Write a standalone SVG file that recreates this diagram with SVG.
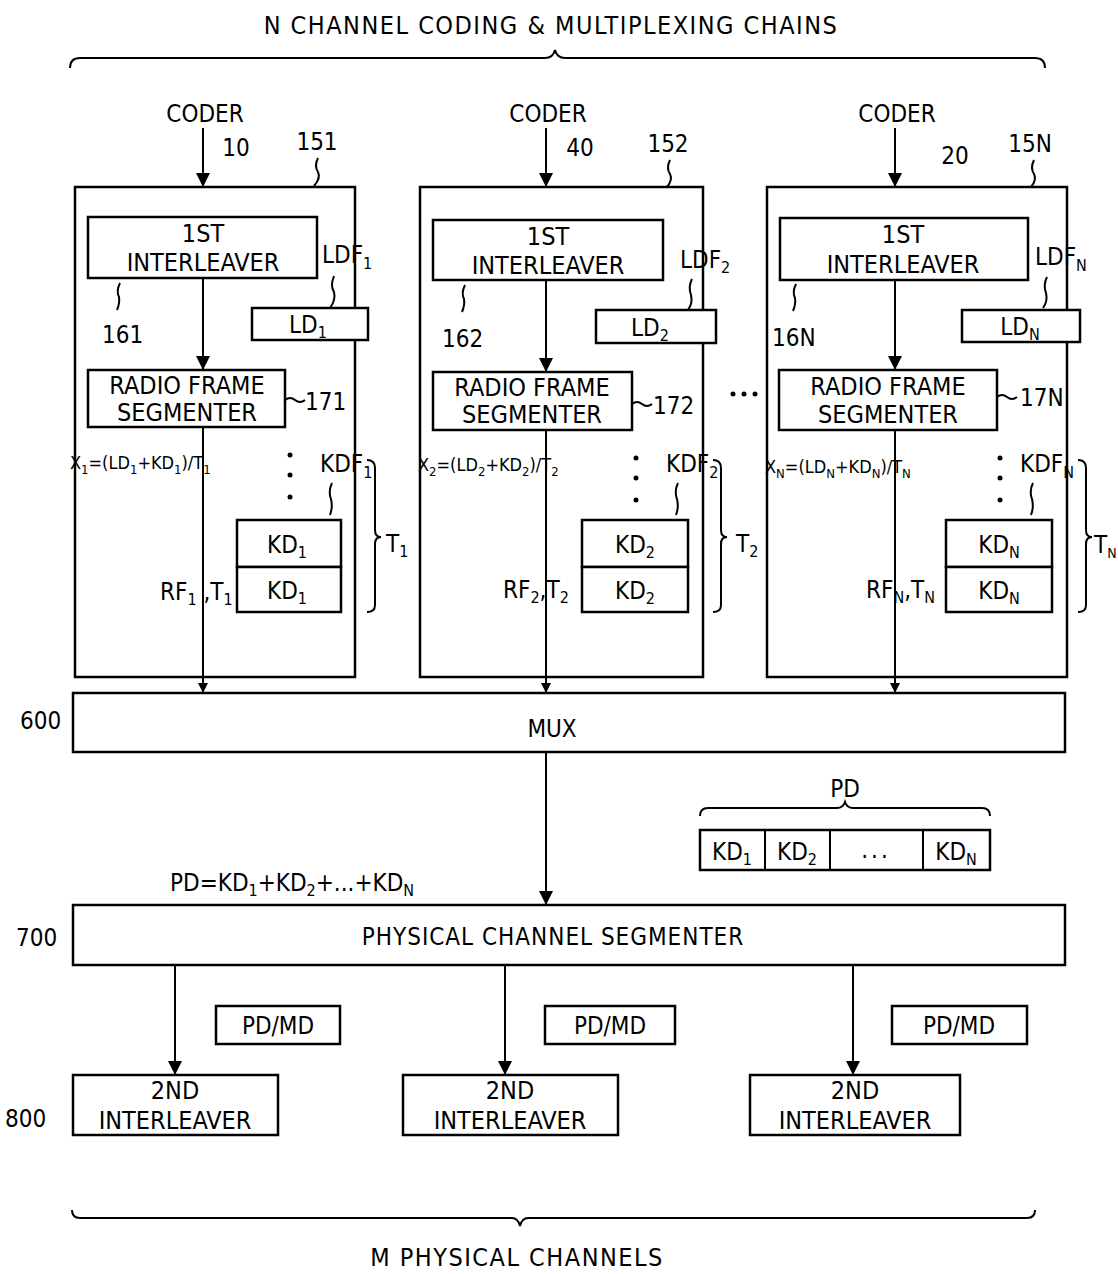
<svg xmlns="http://www.w3.org/2000/svg" width="1118" height="1274" viewBox="0 0 1118 1274">
<defs>
<marker id="ah" viewBox="0 0 10 10" refX="10" refY="5" markerWidth="10" markerHeight="10" markerUnits="userSpaceOnUse" orient="auto">
<path d="M0,0 L10,5 L0,10 z" fill="#000"/>
</marker>
<marker id="ahb" viewBox="0 0 10 10" refX="10" refY="5" markerWidth="16" markerHeight="14" markerUnits="userSpaceOnUse" orient="auto">
<path d="M0,0 L10,5 L0,10 z" fill="#000"/>
</marker>
</defs>
<style>
text{font-family:"Liberation Sans Narrow","DejaVu Sans Condensed","Liberation Sans",sans-serif;fill:#000}
.b{fill:#fff;stroke:#000;stroke-width:2.5}
.t{font-size:25px;text-anchor:middle}
.s{font-size:24px}
.f{font-size:18px}
.l{fill:none;stroke:#000;stroke-width:2}
.c{stroke:#000;stroke-width:2;fill:none}
.dot{fill:#000}
</style>
<rect width="1118" height="1274" fill="#fff"/>

<!-- Title & top brace -->
<text x="551" y="34" font-size="25" text-anchor="middle" letter-spacing="1.5">N CHANNEL CODING &amp; MULTIPLEXING CHAINS</text>
<path class="l" d="M70,68 Q70,58 80,58 L545,58 Q553,58 555,50 Q557,58 565,58 L1035,58 Q1045,58 1045,68"/>

<!-- Column 1 -->
<g id="chain1">
<rect class="b" x="75" y="187" width="280" height="490"/>
<text class="s" x="205" y="122" text-anchor="middle">CODER</text>
<text class="s" x="236" y="156" text-anchor="middle">10</text>
<text class="s" x="317" y="150" text-anchor="middle">151</text>
<path class="l" d="M318,158 q-4,8 0,14 q3,6 -4,14"/>
<g id="il1"><rect class="b" x="88" y="217" width="229" height="61"/>
<text class="t" x="203" y="242">1ST</text><text class="t" x="203" y="271">INTERLEAVER</text></g>
<text class="s" x="322" y="263">LDF<tspan font-size="16" dy="6">1</tspan></text>
<path class="l" d="M334,276 q-4,10 0,16 q2,8 -4,16"/>
<g id="ld1"><rect class="b" x="252" y="308" width="116" height="32"/>
<text class="s" x="308" y="333" text-anchor="middle">LD<tspan font-size="16" dy="5">1</tspan></text></g>
<text class="s" x="102" y="343">161</text>
<path class="l" d="M120,283 q-4,8 -1,14 q1,6 -2,13"/>
<g id="rfs1"><rect class="b" x="88" y="370" width="197" height="57"/>
<text class="t" x="187" y="394">RADIO FRAME</text><text class="t" x="187" y="421">SEGMENTER</text></g>
<path class="l" d="M285,400 q5,-4 10,0 q5,4 10,0"/>
<text class="s" x="305" y="410">171</text>
<text class="f" x="70" y="469">X<tspan font-size="13" dy="5">1</tspan><tspan dy="-5">=(LD</tspan><tspan font-size="13" dy="5">1</tspan><tspan dy="-5">+KD</tspan><tspan font-size="13" dy="5">1</tspan><tspan dy="-5">)/T</tspan><tspan font-size="13" dy="5">1</tspan></text>
<circle class="dot" cx="290" cy="455" r="2.5"/><circle class="dot" cx="290" cy="475" r="2.5"/><circle class="dot" cx="290" cy="497" r="2.5"/>
<text class="s" x="320" y="472">KDF<tspan font-size="16" dy="6">1</tspan></text>
<path class="l" d="M332,483 q-4,8 -1,16 q2,8 -1,16"/>
<g id="kd1"><rect class="b" x="237" y="520" width="104" height="47"/><rect class="b" x="237" y="567" width="104" height="45"/>
<text class="s" x="287" y="553" text-anchor="middle">KD<tspan font-size="16" dy="5">1</tspan></text>
<text class="s" x="287" y="599" text-anchor="middle">KD<tspan font-size="16" dy="5">1</tspan></text></g>
<text class="s" x="160" y="600">RF<tspan font-size="16" dy="5">1</tspan><tspan dy="-5"> ,T</tspan><tspan font-size="16" dy="5">1</tspan></text>
<path class="l" d="M367,460 q8,0 8,8 L375,530 q0,7 6,7 q-6,0 -6,7 L375,605 q0,7 -8,7"/>
<text class="s" x="386" y="552">T<tspan font-size="16" dy="5">1</tspan></text>
</g>

<!-- Column 2 -->
<g id="chain2">
<rect class="b" x="420" y="187" width="283" height="490"/>
<text class="s" x="548" y="122" text-anchor="middle">CODER</text>
<text class="s" x="580" y="156" text-anchor="middle">40</text>
<text class="s" x="668" y="152" text-anchor="middle">152</text>
<path class="l" d="M670,160 q-4,8 0,14 q3,6 -3,13"/>
<g id="il2"><rect class="b" x="433" y="220" width="230" height="60"/>
<text class="t" x="548" y="245">1ST</text><text class="t" x="548" y="274">INTERLEAVER</text></g>
<text class="s" x="680" y="268">LDF<tspan font-size="16" dy="5">2</tspan></text>
<path class="l" d="M692,279 q-4,8 -1,16 q2,8 -3,15"/>
<g id="ld2"><rect class="b" x="596" y="310" width="120" height="33"/>
<text class="s" x="650" y="336" text-anchor="middle">LD<tspan font-size="16" dy="5">2</tspan></text></g>
<text class="s" x="442" y="347">162</text>
<path class="l" d="M465,285 q-4,8 -1,14 q1,6 -2,13"/>
<g id="rfs2"><rect class="b" x="433" y="372" width="199" height="58"/>
<text class="t" x="532" y="396">RADIO FRAME</text><text class="t" x="532" y="423">SEGMENTER</text></g>
<path class="l" d="M632,404 q5,-4 10,0 q5,4 10,0"/>
<text class="s" x="653" y="414">172</text>
<text class="f" x="418" y="471">X<tspan font-size="13" dy="5">2</tspan><tspan dy="-5">=(LD</tspan><tspan font-size="13" dy="5">2</tspan><tspan dy="-5">+KD</tspan><tspan font-size="13" dy="5">2</tspan><tspan dy="-5">)/T</tspan><tspan font-size="13" dy="5">2</tspan></text>
<circle class="dot" cx="636" cy="458" r="2.5"/><circle class="dot" cx="636" cy="478" r="2.5"/><circle class="dot" cx="636" cy="500" r="2.5"/>
<text class="s" x="666" y="472">KDF<tspan font-size="16" dy="6">2</tspan></text>
<path class="l" d="M678,483 q-4,8 -1,16 q2,8 -1,16"/>
<g id="kd2"><rect class="b" x="582" y="520" width="106" height="47"/><rect class="b" x="582" y="567" width="106" height="45"/>
<text class="s" x="635" y="553" text-anchor="middle">KD<tspan font-size="16" dy="5">2</tspan></text>
<text class="s" x="635" y="599" text-anchor="middle">KD<tspan font-size="16" dy="5">2</tspan></text></g>
<text class="s" x="503" y="598">RF<tspan font-size="16" dy="5">2</tspan><tspan dy="-5">,T</tspan><tspan font-size="16" dy="5">2</tspan></text>
<path class="l" d="M713,460 q8,0 8,8 L721,530 q0,7 6,7 q-6,0 -6,7 L721,605 q0,7 -8,7"/>
<text class="s" x="736" y="552">T<tspan font-size="16" dy="5">2</tspan></text>
</g>

<g id="gap-dots"><circle class="dot" cx="733" cy="394" r="2.5"/><circle class="dot" cx="744" cy="394" r="2.5"/><circle class="dot" cx="755" cy="394" r="2.5"/></g>

<!-- Column 3 -->
<g id="chainN">
<rect class="b" x="767" y="187" width="300" height="490"/>
<text class="s" x="897" y="122" text-anchor="middle">CODER</text>
<text class="s" x="955" y="164" text-anchor="middle">20</text>
<text class="s" x="1030" y="152" text-anchor="middle">15N</text>
<path class="l" d="M1034,160 q-4,8 0,14 q3,6 -3,13"/>
<g id="ilN"><rect class="b" x="780" y="218" width="248" height="62"/>
<text class="t" x="903" y="243">1ST</text><text class="t" x="903" y="273">INTERLEAVER</text></g>
<text class="s" x="1035" y="265">LDF<tspan font-size="16" dy="6">N</tspan></text>
<path class="l" d="M1047,277 q-4,8 -1,16 q2,8 -3,15"/>
<g id="ldN"><rect class="b" x="962" y="310" width="118" height="32"/>
<text class="s" x="1020" y="335" text-anchor="middle">LD<tspan font-size="16" dy="5">N</tspan></text></g>
<text class="s" x="772" y="346">16N</text>
<path class="l" d="M796,284 q-4,8 -1,14 q1,6 -2,13"/>
<g id="rfsN"><rect class="b" x="779" y="370" width="218" height="60"/>
<text class="t" x="888" y="395">RADIO FRAME</text><text class="t" x="888" y="423">SEGMENTER</text></g>
<path class="l" d="M997,397 q5,-4 10,0 q5,4 10,0"/>
<text class="s" x="1020" y="406">17N</text>
<text class="f" x="765" y="473">X<tspan font-size="13" dy="5">N</tspan><tspan dy="-5">=(LD</tspan><tspan font-size="13" dy="5">N</tspan><tspan dy="-5">+KD</tspan><tspan font-size="13" dy="5">N</tspan><tspan dy="-5">)/T</tspan><tspan font-size="13" dy="5">N</tspan></text>
<circle class="dot" cx="1000" cy="458" r="2.5"/><circle class="dot" cx="1000" cy="478" r="2.5"/><circle class="dot" cx="1000" cy="500" r="2.5"/>
<text class="s" x="1020" y="472">KDF<tspan font-size="16" dy="6">N</tspan></text>
<path class="l" d="M1033,483 q-4,8 -1,16 q2,8 -1,16"/>
<g id="kdN"><rect class="b" x="946" y="520" width="106" height="47"/><rect class="b" x="946" y="567" width="106" height="45"/>
<text class="s" x="999" y="553" text-anchor="middle">KD<tspan font-size="16" dy="5">N</tspan></text>
<text class="s" x="999" y="599" text-anchor="middle">KD<tspan font-size="16" dy="5">N</tspan></text></g>
<text class="s" x="866" y="598">RF<tspan font-size="16" dy="5">N</tspan><tspan dy="-5">,T</tspan><tspan font-size="16" dy="5">N</tspan></text>
<path class="l" d="M1078,460 q8,0 8,8 L1086,530 q0,7 6,7 q-6,0 -6,7 L1086,605 q0,7 -8,7"/>
<text class="s" x="1094" y="553">T<tspan font-size="14" dy="5">N</tspan></text>
</g>

<!-- MUX -->
<g id="mux">
<rect class="b" x="73" y="693" width="992" height="59"/>
<text class="s" x="552" y="737" text-anchor="middle">MUX</text>
<text class="s" x="20" y="729">600</text>
</g>

<!-- PD illustration -->
<g id="pd">
<text class="s" x="845" y="797" text-anchor="middle">PD</text>
<path class="l" d="M700,816 q0,-8 8,-8 L837,808 q6,0 8,-6 q2,6 8,6 L982,808 q8,0 8,8"/>
<rect class="b" x="700" y="830" width="290" height="40"/>
<line class="c" x1="765" y1="830" x2="765" y2="870"/>
<line class="c" x1="830" y1="830" x2="830" y2="870"/>
<line class="c" x1="923" y1="830" x2="923" y2="870"/>
<text class="s" x="732" y="860" text-anchor="middle">KD<tspan font-size="16" dy="5">1</tspan></text>
<text class="s" x="797" y="860" text-anchor="middle">KD<tspan font-size="16" dy="5">2</tspan></text>
<text class="s" x="876" y="858" text-anchor="middle" letter-spacing="3">...</text>
<text class="s" x="956" y="860" text-anchor="middle">KD<tspan font-size="16" dy="5">N</tspan></text>
</g>
<text class="s" x="170" y="891">PD=KD<tspan font-size="16" dy="5">1</tspan><tspan dy="-5">+KD</tspan><tspan font-size="16" dy="5">2</tspan><tspan dy="-5">+...+KD</tspan><tspan font-size="16" dy="5">N</tspan></text>

<!-- Physical channel segmenter -->
<g id="pcs">
<rect class="b" x="73" y="905" width="992" height="60"/>
<text class="s" x="553" y="945" text-anchor="middle" letter-spacing="1">PHYSICAL CHANNEL SEGMENTER</text>
<text class="s" x="16" y="946">700</text>
</g>

<!-- PD/MD boxes -->
<g id="pdmd1"><rect class="b" x="216" y="1006" width="124" height="38"/><text class="s" x="278" y="1034" text-anchor="middle">PD/MD</text></g>
<g id="pdmd2"><rect class="b" x="545" y="1006" width="130" height="38"/><text class="s" x="610" y="1034" text-anchor="middle">PD/MD</text></g>
<g id="pdmd3"><rect class="b" x="892" y="1006" width="135" height="38"/><text class="s" x="959" y="1034" text-anchor="middle">PD/MD</text></g>

<!-- 2nd interleavers -->
<g id="il2nd1"><rect class="b" x="73" y="1075" width="205" height="60"/>
<text class="t" x="175" y="1099">2ND</text><text class="t" x="175" y="1129">INTERLEAVER</text></g>
<g id="il2nd2"><rect class="b" x="403" y="1075" width="215" height="60"/>
<text class="t" x="510" y="1099">2ND</text><text class="t" x="510" y="1129">INTERLEAVER</text></g>
<g id="il2nd3"><rect class="b" x="750" y="1075" width="210" height="60"/>
<text class="t" x="855" y="1099">2ND</text><text class="t" x="855" y="1129">INTERLEAVER</text></g>
<text class="s" x="5" y="1127">800</text>

<!-- Bottom brace -->
<path class="l" d="M72,1210 q0,8 8,8 L512,1218 q6,0 8,8 q2,-8 8,-8 L1027,1218 q8,0 8,-8"/>
<text x="517" y="1266" font-size="25" text-anchor="middle" letter-spacing="1.5">M PHYSICAL CHANNELS</text>

<!-- Connectors -->
<g id="connectors">
<line class="c" x1="203" y1="128" x2="203" y2="187" marker-end="url(#ahb)"/>
<line class="c" x1="546" y1="128" x2="546" y2="187" marker-end="url(#ahb)"/>
<line class="c" x1="895" y1="128" x2="895" y2="187" marker-end="url(#ahb)"/>
<line class="c" x1="203" y1="278" x2="203" y2="370" marker-end="url(#ahb)"/>
<line class="c" x1="546" y1="280" x2="546" y2="372" marker-end="url(#ahb)"/>
<line class="c" x1="895" y1="280" x2="895" y2="370" marker-end="url(#ahb)"/>
<line class="c" x1="203" y1="427" x2="203" y2="693" marker-end="url(#ah)"/>
<line class="c" x1="546" y1="430" x2="546" y2="693" marker-end="url(#ah)"/>
<line class="c" x1="895" y1="430" x2="895" y2="693" marker-end="url(#ah)"/>
<line class="c" x1="546" y1="752" x2="546" y2="905" marker-end="url(#ahb)"/>
<line class="c" x1="175" y1="965" x2="175" y2="1075" marker-end="url(#ahb)"/>
<line class="c" x1="505" y1="965" x2="505" y2="1075" marker-end="url(#ahb)"/>
<line class="c" x1="853" y1="965" x2="853" y2="1075" marker-end="url(#ahb)"/>
</g>
</svg>
